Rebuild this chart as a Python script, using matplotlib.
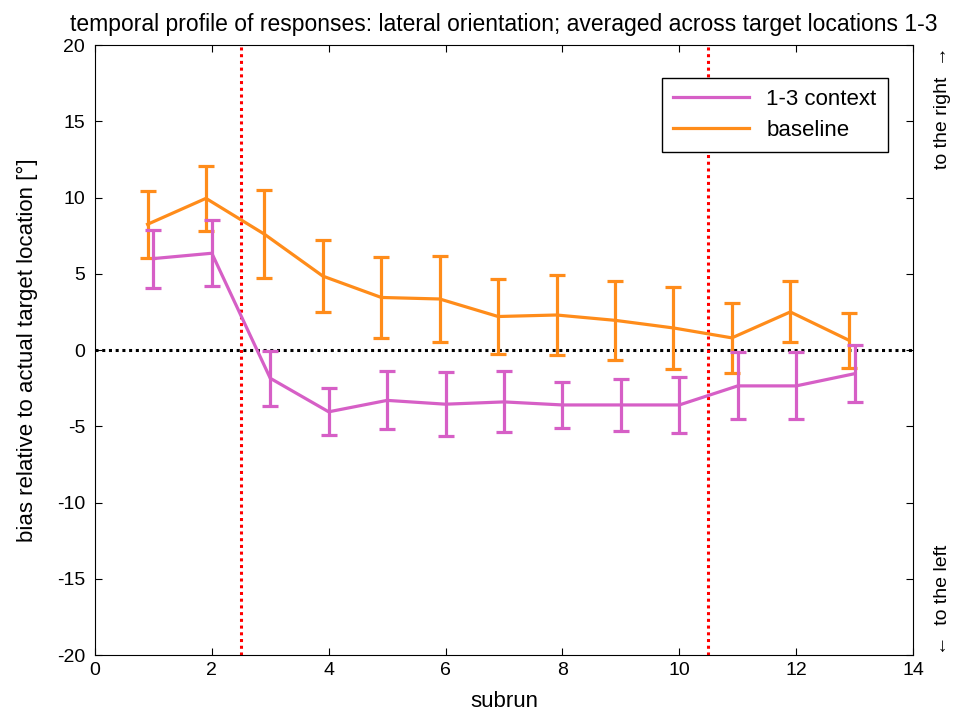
import numpy as np
import matplotlib.pyplot as plt

plt.rcParams['font.family'] = ['Liberation Sans', 'DejaVu Sans']
plt.rcParams['axes.unicode_minus'] = False

subrun = np.arange(1, 14)

context_mean = [6.0, 6.35, -1.85, -4.05, -3.3, -3.55, -3.4, -3.6, -3.6, -3.6, -2.35, -2.35, -1.55]
context_err = [1.9, 2.15, 1.8, 1.55, 1.9, 2.1, 2.0, 1.5, 1.7, 1.85, 2.2, 2.2, 1.85]

baseline_mean = [8.25, 9.95, 7.6, 4.85, 3.45, 3.35, 2.2, 2.3, 1.95, 1.45, 0.8, 2.5, 0.65]
baseline_err = [2.2, 2.15, 2.9, 2.35, 2.65, 2.85, 2.45, 2.65, 2.6, 2.7, 2.3, 2.0, 1.8]

context_color = '#D65FC6'
baseline_color = '#FF8C1A'

fig = plt.figure(figsize=(9.72, 7.15), dpi=100)
ax = fig.add_axes([0.0977, 0.0839, 0.8416, 0.853])

ax.axhline(0, color='black', linestyle=(0, (1, 1.2)), linewidth=2.2, zorder=1)
for xv in [2.5, 10.5]:
    ax.axvline(xv, color='red', linestyle=(0, (1, 1.2)), linewidth=2.2, zorder=1)

ax.errorbar(subrun, context_mean, yerr=context_err, color=context_color,
            linewidth=2.3, elinewidth=2.3, capsize=5.5, capthick=2.3,
            label='1-3 context', zorder=3)
ax.errorbar(subrun - 0.1, baseline_mean, yerr=baseline_err, color=baseline_color,
            linewidth=2.3, elinewidth=2.3, capsize=5.5, capthick=2.3,
            label='baseline', zorder=2)

ax.set_xlim(0, 14)
ax.set_ylim(-20, 20)
ax.set_xticks(np.arange(0, 15, 2))
ax.set_yticks(np.arange(-20, 21, 5))
ax.tick_params(direction='in', top=True, right=True, labelsize=14, length=5)
ax.tick_params(axis='y', pad=7)
ax.tick_params(axis='x', pad=5)
ax.set_xlabel('subrun', fontsize=16, labelpad=9)
ax.set_ylabel('bias relative to actual target location [°]', fontsize=16, labelpad=14)
ax.set_title('temporal profile of responses: lateral orientation; averaged across target locations 1-3',
             fontsize=16.5, pad=10)

fig.text(0.970, 0.849, 'to the right  →', rotation=90, ha='center', va='center', fontsize=14)
fig.text(0.970, 0.161, '←  to the left', rotation=90, ha='center', va='center', fontsize=14)

handles, labels = ax.get_legend_handles_labels()
handles = [h[0] for h in handles]
leg = ax.legend(handles, labels, loc='upper right', fontsize=16, frameon=True,
                fancybox=False, edgecolor='black', framealpha=1,
                bbox_to_anchor=(0.969, 0.946), borderaxespad=0,
                handlelength=3.4, borderpad=0.5, labelspacing=0.45)
leg.get_frame().set_linewidth(1.0)

fig.savefig('out.png', dpi=100)
